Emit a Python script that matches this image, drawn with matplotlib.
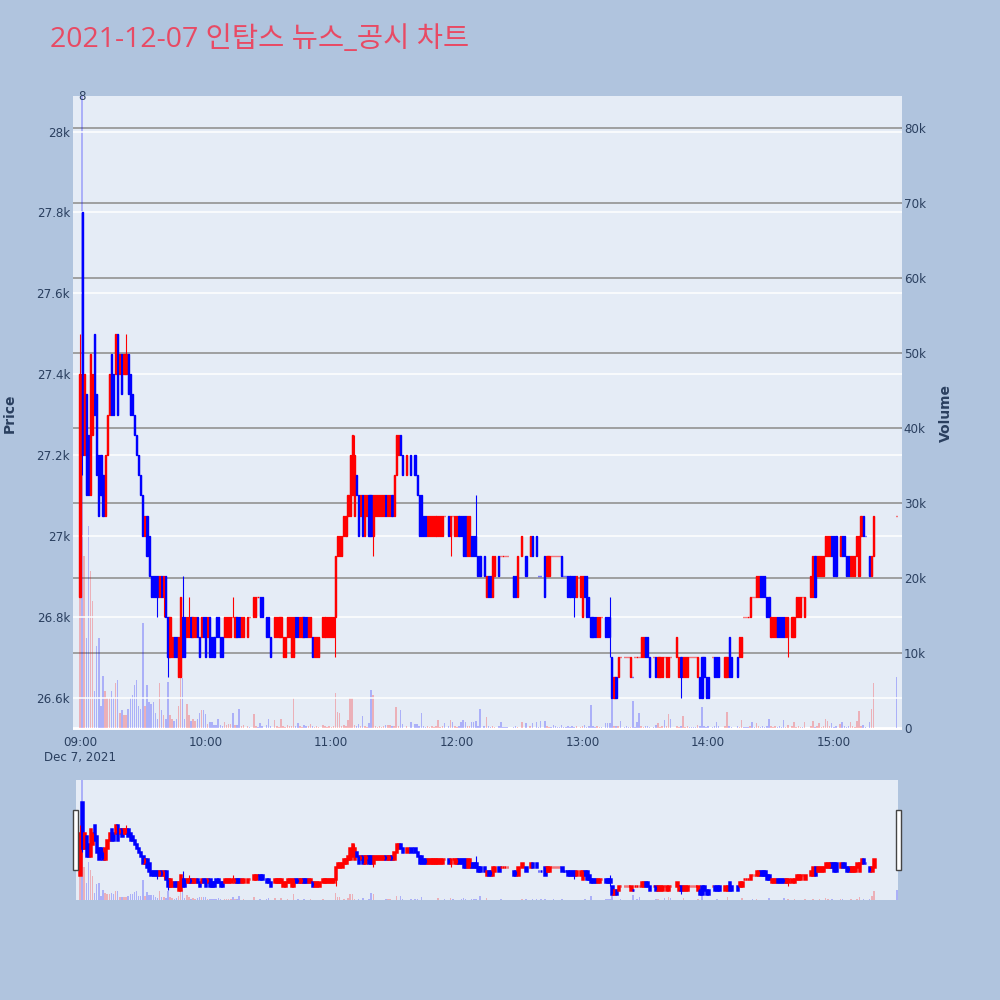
import matplotlib
matplotlib.use('Agg')
import matplotlib.pyplot as plt
from matplotlib.patches import Rectangle

# minute index from 09:00, one entry per traded minute
minutes = [
    0, 1, 2, 3, 4, 5, 6, 7, 8, 9, 10, 11, 12, 13, 14, 15, 16, 17, 18, 19,
    20, 21, 22, 23, 24, 25, 26, 27, 28, 29, 30, 31, 32, 33, 34, 35, 36, 37, 38, 39,
    40, 41, 42, 43, 44, 45, 46, 47, 48, 49, 50, 51, 52, 53, 54, 55, 56, 57, 58, 59, 60,
    # 10:00
    61, 62, 63, 64, 65, 66, 67, 68, 69, 70, 71, 72, 73, 74, 75, 76, 77, 78, 80, 81,
    83, 84, 85, 86, 87, 89, 90, 91, 93, 94, 95, 96, 97, 98, 99, 100, 101, 102, 103, 104,
    105, 106, 107, 108, 109, 110, 111, 112, 113, 114, 116, 117, 118, 119, 120, 121,
    # 11:00
    122, 123, 124, 125, 126, 127, 128, 129, 130, 131, 132, 133, 134, 135, 136, 137, 138, 139, 140, 141,
    142, 143, 144, 145, 146, 147, 148, 149, 150, 151, 152, 153, 154, 156, 158, 160, 161, 162, 163, 164,
    165, 166, 167, 168, 169, 170, 171, 172, 173, 174, 176, 177, 178,
    # 12:00
    179, 180, 181, 182, 183, 184, 185, 186, 187, 188, 189, 190, 191, 193, 194, 195, 196, 197, 198, 200,
    201, 202, 203, 204, 207, 208, 209, 211, 213, 215, 216, 218, 219, 220, 222, 223, 224, 225, 226, 227,
    228, 229, 230, 231, 232, 233, 234, 235, 236, 237, 239, 240, 241, 242, 243, 244,
    # 13:00
    245, 246, 247, 248, 249, 251, 252, 253, 254, 255, 256, 257, 258, 260, 261, 262, 263, 264, 265, 266,
    267, 268, 269, 270, 271, 272, 274, 275, 276, 277, 278, 279, 280, 281, 282, 285, 286, 287, 288, 289,
    290, 291, 292, 293, 294, 295, 296, 297, 298, 299, 300, 302, 303, 304, 305,
    # 14:00 - close
    308, 309, 310, 311, 314, 315, 316, 317, 318, 319, 320, 321, 322, 323, 324, 325, 326, 327, 328, 329,
    330, 331, 332, 333, 334, 335, 336, 337, 338, 340, 341, 342, 343, 344, 345, 346, 349, 350, 351, 352,
    353, 354, 355, 356, 357, 358, 359, 360, 361, 363, 364, 365, 366, 367, 368, 369, 370, 371, 372, 373,
    374, 375, 377, 378, 379, 390,
]

opens = [
    26850, 27800, 27200, 27350, 27250, 27100, 27250, 27500, 27350, 27200,
    27200, 27150, 27050, 27200, 27300, 27450, 27400, 27400, 27500, 27400,
    27450, 27400, 27400, 27450, 27400, 27350, 27300, 27250, 27200, 27150,
    27100, 27000, 27050, 27000, 26900, 26900, 26900, 26900, 26850, 26900,
    26850, 26900, 26800, 26700, 26700, 26750, 26750, 26650, 26650, 26800,
    26800, 26750, 26750, 26800, 26750, 26750, 26800, 26750, 26750, 26800, 26800,
    26750, 26800, 26750, 26750, 26800, 26800, 26750, 26750, 26750, 26750,
    26750, 26750, 26800, 26750, 26800, 26800, 26750, 26750, 26750, 26800,
    26800, 26800, 26850, 26850, 26850, 26800, 26800, 26750, 26750, 26750,
    26750, 26750, 26700, 26700, 26750, 26750, 26700, 26700, 26800, 26800,
    26750, 26750, 26800, 26800, 26750, 26750, 26750, 26700, 26700, 26700,
    26750, 26750, 26750, 26750, 26750, 26750,
    26800, 26950, 26950, 26950, 27000, 27000, 27050, 27050, 27100, 27050,
    27150, 27100, 27050, 27100, 27000, 27050, 27100, 27100, 27000, 27050,
    27050, 27050, 27050, 27050, 27100, 27050, 27050, 27100, 27050, 27150,
    27200, 27250, 27200, 27150, 27200, 27200, 27150, 27100, 27100, 27050,
    27050, 27000, 27000, 27000, 27000, 27000, 27000, 27000, 27000, 27050,
    27050, 27000, 27050,
    27000, 27000, 27050, 27050, 27050, 27050, 26950, 26950, 27000, 27000,
    27000, 26950, 26950, 26950, 26850, 26900, 26900, 26850, 26900, 26950,
    26950, 26950, 26950, 26950, 26900, 26900, 26850, 26950, 26950, 26950,
    27000, 27000, 26900, 26900, 26950, 26900, 26900, 26950, 26950, 26950,
    26950, 26950, 26950, 26900, 26900, 26900, 26900, 26900, 26900, 26850,
    26850, 26800, 26900, 26900, 26850, 26800,
    26800, 26800, 26750, 26750, 26800, 26800, 26800, 26800, 26700, 26600,
    26650, 26650, 26700, 26700, 26700, 26700, 26650, 26650, 26700, 26700,
    26700, 26700, 26700, 26750, 26750, 26700, 26700, 26700, 26650, 26650,
    26650, 26700, 26650, 26650, 26700, 26700, 26650, 26700, 26650, 26650,
    26650, 26700, 26700, 26700, 26700, 26650, 26650, 26700, 26700, 26650,
    26650, 26700, 26700, 26700, 26700,
    26650, 26650, 26750, 26700, 26700, 26700, 26700, 26800, 26800, 26800,
    26800, 26850, 26850, 26850, 26850, 26900, 26900, 26900, 26850, 26850,
    26750, 26750, 26750, 26800, 26800, 26800, 26800, 26750, 26750, 26750,
    26750, 26800, 26800, 26800, 26850, 26800, 26850, 26850, 26950, 26900,
    26900, 26900, 26900, 26950, 26950, 26950, 27000, 27000, 27000, 26950,
    27000, 27000, 26950, 26950, 26900, 26900, 26900, 26950, 26900, 27000,
    27050, 27000, 26950, 26900, 26950, 27050,
]

highs = [
    27500, 27800, 27400, 27350, 27250, 27450, 27400, 27500, 27350, 27200,
    27200, 27150, 27200, 27300, 27400, 27450, 27400, 27500, 27500, 27450,
    27450, 27450, 27500, 27450, 27400, 27350, 27300, 27250, 27200, 27150,
    27100, 27050, 27050, 27000, 26900, 26900, 26900, 26900, 26900, 26900,
    26900, 26900, 26800, 26800, 26750, 26750, 26750, 26750, 26850, 26900,
    26800, 26800, 26850, 26800, 26800, 26800, 26800, 26750, 26800, 26800, 26800,
    26800, 26800, 26750, 26750, 26800, 26800, 26750, 26750, 26800, 26800,
    26800, 26800, 26850, 26800, 26800, 26800, 26800, 26800, 26800, 26800,
    26850, 26850, 26850, 26850, 26850, 26800, 26800, 26750, 26800, 26800,
    26800, 26800, 26750, 26750, 26800, 26800, 26800, 26800, 26800, 26800,
    26800, 26800, 26800, 26800, 26800, 26800, 26750, 26750, 26750, 26750,
    26800, 26800, 26800, 26800, 26800, 26800,
    26950, 27000, 27000, 27000, 27050, 27050, 27100, 27200, 27250, 27250,
    27150, 27100, 27100, 27100, 27100, 27100, 27100, 27100, 27100, 27100,
    27100, 27100, 27100, 27100, 27100, 27100, 27100, 27100, 27150, 27250,
    27250, 27250, 27200, 27200, 27200, 27200, 27150, 27100, 27100, 27050,
    27050, 27050, 27050, 27050, 27050, 27050, 27050, 27050, 27050, 27050,
    27050, 27050, 27050,
    27050, 27050, 27050, 27050, 27050, 27050, 27050, 27050, 27000, 27000,
    27100, 26950, 26950, 26950, 26900, 26900, 26900, 26950, 26950, 26950,
    26950, 26950, 26950, 26950, 26900, 26900, 26950, 27000, 26950, 27000,
    27000, 27000, 26900, 26900, 26950, 26950, 26950, 26950, 26950, 26950,
    26950, 26950, 26950, 26900, 26900, 26900, 26900, 26900, 26900, 26900,
    26900, 26900, 26900, 26900, 26850, 26800,
    26800, 26800, 26800, 26800, 26800, 26800, 26800, 26850, 26700, 26650,
    26650, 26700, 26700, 26700, 26700, 26700, 26700, 26650, 26700, 26700,
    26700, 26750, 26750, 26750, 26750, 26700, 26700, 26700, 26700, 26700,
    26700, 26700, 26700, 26700, 26700, 26750, 26700, 26700, 26700, 26700,
    26700, 26700, 26700, 26700, 26700, 26700, 26650, 26700, 26700, 26650,
    26650, 26700, 26700, 26700, 26700,
    26700, 26700, 26750, 26700, 26700, 26750, 26750, 26800, 26800, 26800,
    26850, 26850, 26850, 26900, 26900, 26900, 26900, 26900, 26850, 26850,
    26800, 26800, 26800, 26800, 26800, 26800, 26800, 26800, 26800, 26800,
    26800, 26850, 26850, 26850, 26850, 26850, 26900, 26950, 26950, 26950,
    26950, 26950, 26950, 27000, 27000, 27000, 27000, 27000, 27000, 27000,
    27000, 27000, 26950, 26950, 26950, 26950, 26950, 27000, 27000, 27050,
    27050, 27000, 26950, 26950, 27050, 27050,
]

lows = [
    26850, 27150, 27200, 27100, 27100, 27100, 27250, 27300, 27150, 27050,
    27100, 27050, 27050, 27200, 27300, 27300, 27300, 27400, 27300, 27400,
    27350, 27400, 27400, 27350, 27300, 27300, 27250, 27200, 27150, 27100,
    27000, 27000, 26950, 26900, 26850, 26850, 26850, 26800, 26850, 26850,
    26800, 26800, 26650, 26700, 26700, 26700, 26700, 26650, 26650, 26700,
    26700, 26750, 26750, 26750, 26750, 26750, 26750, 26700, 26750, 26750, 26700,
    26750, 26700, 26700, 26700, 26750, 26750, 26700, 26700, 26750, 26750,
    26750, 26750, 26800, 26750, 26750, 26750, 26750, 26750, 26750, 26800,
    26800, 26800, 26850, 26800, 26800, 26750, 26750, 26700, 26750, 26750,
    26750, 26750, 26700, 26700, 26750, 26750, 26700, 26700, 26750, 26750,
    26750, 26750, 26750, 26750, 26750, 26750, 26700, 26700, 26700, 26700,
    26750, 26750, 26750, 26750, 26750, 26750,
    26700, 26950, 26950, 26950, 27000, 27000, 27050, 27050, 27100, 27050,
    27100, 27000, 27050, 27000, 27000, 27050, 27000, 27000, 26950, 27050,
    27050, 27050, 27050, 27050, 27050, 27050, 27050, 27050, 27050, 27150,
    27200, 27200, 27150, 27150, 27150, 27150, 27100, 27000, 27000, 27000,
    27000, 27000, 27000, 27000, 27000, 27000, 27000, 27000, 27000, 27050,
    27000, 26950, 27050,
    27000, 27000, 27000, 27000, 26950, 26950, 26950, 26950, 26950, 26950,
    26950, 26900, 26900, 26900, 26850, 26850, 26850, 26850, 26900, 26900,
    26950, 26950, 26950, 26950, 26850, 26850, 26850, 26950, 26900, 26950,
    26950, 26950, 26900, 26900, 26850, 26900, 26900, 26950, 26950, 26950,
    26950, 26950, 26900, 26900, 26900, 26850, 26850, 26850, 26800, 26850,
    26850, 26800, 26850, 26800, 26800, 26750,
    26750, 26750, 26750, 26750, 26800, 26750, 26750, 26700, 26600, 26600,
    26600, 26650, 26700, 26700, 26700, 26700, 26650, 26650, 26700, 26700,
    26700, 26700, 26700, 26700, 26700, 26650, 26700, 26650, 26650, 26650,
    26650, 26700, 26650, 26650, 26700, 26700, 26650, 26600, 26650, 26650,
    26650, 26700, 26700, 26700, 26700, 26650, 26600, 26600, 26650, 26600,
    26600, 26700, 26650, 26650, 26650,
    26650, 26650, 26650, 26650, 26650, 26700, 26700, 26800, 26800, 26800,
    26800, 26850, 26850, 26850, 26850, 26850, 26850, 26850, 26800, 26800,
    26750, 26750, 26750, 26750, 26750, 26750, 26750, 26750, 26700, 26750,
    26750, 26800, 26800, 26800, 26850, 26800, 26850, 26850, 26850, 26900,
    26900, 26900, 26900, 26950, 26950, 26950, 26950, 26900, 26900, 26950,
    26950, 26950, 26900, 26900, 26900, 26900, 26900, 26950, 26900, 27000,
    27000, 27000, 26900, 26900, 26950, 27050,
]

closes = [
    27400, 27200, 27400, 27100, 27100, 27450, 27400, 27300, 27150, 27050,
    27100, 27050, 27200, 27300, 27400, 27300, 27300, 27500, 27300, 27450,
    27350, 27450, 27450, 27350, 27300, 27300, 27250, 27200, 27150, 27100,
    27000, 27050, 26950, 26900, 26850, 26850, 26850, 26850, 26900, 26850,
    26900, 26800, 26700, 26800, 26750, 26700, 26700, 26750, 26850, 26700,
    26700, 26800, 26800, 26750, 26800, 26800, 26750, 26700, 26800, 26750, 26700,
    26800, 26700, 26700, 26700, 26750, 26750, 26700, 26700, 26800, 26800,
    26800, 26800, 26800, 26800, 26750, 26750, 26800, 26800, 26800, 26800,
    26850, 26850, 26850, 26800, 26800, 26750, 26750, 26700, 26800, 26800,
    26800, 26800, 26750, 26750, 26800, 26800, 26800, 26800, 26750, 26750,
    26800, 26800, 26750, 26750, 26800, 26800, 26700, 26750, 26750, 26750,
    26800, 26800, 26800, 26800, 26800, 26800,
    26950, 27000, 27000, 27000, 27050, 27050, 27100, 27200, 27250, 27200,
    27100, 27000, 27100, 27000, 27100, 27100, 27000, 27000, 27100, 27100,
    27100, 27100, 27100, 27100, 27050, 27100, 27100, 27050, 27150, 27250,
    27250, 27200, 27150, 27200, 27150, 27150, 27100, 27000, 27000, 27000,
    27000, 27050, 27050, 27050, 27050, 27050, 27050, 27050, 27050, 27050,
    27000, 27050, 27050,
    27050, 27050, 27000, 27000, 26950, 26950, 27050, 27050, 26950, 26950,
    26950, 26900, 26900, 26900, 26900, 26850, 26850, 26950, 26950, 26900,
    26950, 26950, 26950, 26950, 26850, 26850, 26950, 27000, 26900, 27000,
    26950, 26950, 26900, 26900, 26850, 26950, 26950, 26950, 26950, 26950,
    26950, 26950, 26900, 26900, 26900, 26850, 26850, 26850, 26850, 26900,
    26900, 26900, 26850, 26800, 26800, 26750,
    26750, 26750, 26800, 26800, 26800, 26750, 26750, 26750, 26600, 26650,
    26600, 26700, 26700, 26700, 26700, 26700, 26700, 26650, 26700, 26700,
    26700, 26750, 26750, 26700, 26700, 26650, 26700, 26650, 26700, 26700,
    26700, 26700, 26700, 26700, 26700, 26750, 26700, 26650, 26700, 26700,
    26700, 26700, 26700, 26700, 26700, 26700, 26600, 26600, 26650, 26600,
    26600, 26700, 26650, 26650, 26650,
    26700, 26700, 26650, 26650, 26650, 26750, 26750, 26800, 26800, 26800,
    26850, 26850, 26850, 26900, 26900, 26850, 26850, 26850, 26800, 26800,
    26800, 26800, 26800, 26750, 26750, 26750, 26750, 26800, 26800, 26800,
    26800, 26850, 26850, 26850, 26850, 26850, 26900, 26950, 26850, 26950,
    26950, 26950, 26950, 27000, 27000, 27000, 26950, 26900, 26900, 27000,
    26950, 26950, 26900, 26900, 26950, 26950, 26950, 27000, 27000, 27050,
    27000, 27000, 26900, 26950, 27050, 27050,
]

volumes = [
    26000, 88000, 23000, 12000, 27000, 21000, 17000, 5000, 11000, 12000,
    3000, 7000, 5000, 4000, 4000, 5000, 4000, 6000, 6500, 2000,
    2400, 1800, 1800, 2600, 4000, 4400, 5800, 6400, 3000, 2600,
    14000, 3000, 5800, 3500, 3300, 3500, 2000, 1300, 6000, 2400,
    1800, 1300, 6200, 1800, 1300, 1000, 1300, 3000, 6700, 6700,
    1300, 3300, 1800, 1000, 1300, 1000, 1300, 2100, 2400, 2400, 1900,
    600, 800, 800, 500, 400, 1200, 500, 300, 900, 400,
    600, 600, 2100, 500, 400, 2600, 300, 400, 300, 200,
    1900, 300, 200, 700, 300, 400, 1200, 300, 1100, 300,
    200, 1300, 300, 200, 400, 300, 300, 4100, 300, 700,
    300, 200, 400, 300, 300, 600, 300, 200, 300, 200,
    400, 300, 200, 300, 200, 300,
    4700, 2200, 2000, 300, 400, 300, 1100, 4100, 4100, 400,
    300, 600, 300, 1600, 300, 200, 700, 5100, 4400, 300,
    200, 300, 200, 300, 400, 400, 400, 300, 300, 2800,
    300, 2500, 600, 300, 900, 600, 600, 300, 2100, 300,
    200, 300, 200, 300, 200, 300, 1100, 200, 300, 700,
    300, 1100, 900,
    300, 200, 300, 900, 1100, 900, 300, 300, 900, 900,
    1000, 300, 2600, 300, 1500, 300, 200, 300, 200, 300,
    800, 200, 200, 200, 200, 300, 200, 800, 700, 300,
    700, 800, 200, 1000, 1000, 300, 200, 200, 500, 300,
    200, 200, 400, 200, 200, 300, 200, 300, 200, 300,
    200, 300, 400, 200, 300, 3100,
    300, 200, 300, 200, 200, 700, 700, 700, 4000, 300,
    300, 300, 1000, 200, 300, 200, 200, 3600, 200, 800,
    2000, 300, 200, 300, 300, 200, 200, 500, 700, 200,
    300, 1100, 300, 1900, 1200, 300, 200, 300, 1600, 200,
    300, 200, 200, 200, 200, 500, 300, 2800, 300, 200,
    300, 200, 300, 800, 300,
    300, 2200, 300, 200, 300, 200, 1100, 200, 200, 200,
    300, 900, 200, 700, 300, 200, 300, 200, 300, 1200,
    300, 200, 300, 200, 300, 200, 1100, 200, 400, 300,
    900, 200, 300, 200, 200, 800, 300, 1000, 200, 300,
    700, 200, 300, 1200, 1000, 300, 700, 200, 300, 600,
    800, 300, 200, 300, 900, 300, 200, 1000, 2300, 300,
    400, 200, 900, 2600, 6100, 6900,
]

assert len(minutes) == len(opens) == len(highs) == len(lows) == len(closes) == len(volumes)

price_ticks = [26600, 26800, 27000, 27200, 27400, 27600, 27800, 28000]
price_labels = ['26.6k', '26.8k', '27k', '27.2k', '27.4k', '27.6k', '27.8k', '28k']
vol_ticks = [0, 10000, 20000, 30000, 40000, 50000, 60000, 70000, 80000]
vol_labels = ['0', '10k', '20k', '30k', '40k', '50k', '60k', '70k', '80k']
time_ticks = [0, 60, 120, 180, 240, 300, 360]
time_labels = ['09:00\nDec 7, 2021', '10:00', '11:00', '12:00', '13:00', '14:00', '15:00']

title = '2021-12-07 인탑스 뉴스_공시 차트'

BG = '#B0C4DE'
PLOT_BG = '#E5ECF6'
TXT = '#2a3f5f'
plt.rcParams['font.family'] = ['DejaVu Sans', 'Noto Sans CJK KR']

# candle direction the way plotly decides it (ties use the previous close)
up = []
prev_c = None
prev_up = True
for o, c in zip(opens, closes):
    if c > o:
        u = True
    elif c < o:
        u = False
    elif prev_c is not None and c > prev_c:
        u = True
    elif prev_c is not None and c < prev_c:
        u = False
    else:
        u = prev_up
    up.append(u)
    prev_c = c
    prev_up = u
cols = ['#ff0000' if u else '#0000ff' for u in up]
vcols = ['#ff0000' if c > o else '#0000ff' for o, c in zip(opens, closes)]
bottoms = [min(o, c) for o, c in zip(opens, closes)]
heights = [abs(c - o) for o, c in zip(opens, closes)]

PRICE_LIM = (26520, 28088)
VOL_LIM = (-230, 84300)


def draw(ax_v, ax_p, body_w, body_lw):
    ax_v.bar(minutes, volumes, width=0.7, color=vcols, alpha=0.25, linewidth=0)
    ax_p.vlines(minutes, lows, highs, colors=cols, linewidth=0.8)
    ax_p.bar(minutes, heights, bottom=bottoms, width=body_w, color=cols,
             edgecolor=cols, linewidth=body_lw)


fig = plt.figure(figsize=(10, 10), dpi=100, facecolor=BG)

# main panel
pos = [0.073, 0.270, 0.8287, 0.634]
axv = fig.add_axes(pos, zorder=1)
axp = fig.add_axes(pos, zorder=2, sharex=axv)
axp.patch.set_visible(False)
axv.set_facecolor(PLOT_BG)

for y in vol_ticks[1:]:
    axv.axhline(y, color='#999999', linewidth=1.3, zorder=0)
axv.axhline(0, color='white', linewidth=2, zorder=0)
for y in price_ticks:
    axp.axhline(y, color='white', linewidth=1.1, zorder=0)

draw(axv, axp, 0.55, 1.0)

axp.set_xlim(-3.34, 392.4)
axp.set_ylim(*PRICE_LIM)
axv.set_ylim(*VOL_LIM)

axp.set_yticks(price_ticks)
axp.set_yticklabels(price_labels)
axv.yaxis.tick_right()
axv.set_yticks(vol_ticks)
axv.set_yticklabels(vol_labels)
axv.set_xticks(time_ticks)
axv.set_xticklabels(time_labels)
axp.tick_params(axis='x', labelbottom=False, length=0)
axp.tick_params(axis='y', length=0, pad=2, labelsize=8.6, labelcolor=TXT)
axv.tick_params(axis='y', length=0, pad=1.5, labelsize=8.6, labelcolor=TXT)
axv.tick_params(axis='x', length=0, pad=4, labelsize=8.6, labelcolor=TXT)
for a in (axv, axp):
    for s in a.spines.values():
        s.set_visible(False)

fig.text(0.010, 1 - 0.413, 'Price', rotation=90, ha='center', va='center',
         fontsize=10, fontweight='bold', color=TXT)
fig.text(0.946, 1 - 0.413, 'Volume', rotation=90, ha='center', va='center',
         fontsize=10, fontweight='bold', color=TXT)
fig.text(0.082, 1 - 0.097, '8', ha='center', va='center', fontsize=8.6, color=TXT)
fig.text(0.050, 1 - 0.040, title, ha='left', va='center', fontsize=20.5,
         color='#E84A64', family=['Open Sans', 'Noto Sans CJK KR'])

# range slider
spos = [0.076, 0.100, 0.822, 0.120]
sv = fig.add_axes(spos, zorder=1)
sp = fig.add_axes(spos, zorder=2, sharex=sv)
sp.patch.set_visible(False)
sv.set_facecolor(PLOT_BG)
draw(sv, sp, 0.7, 1.8)
sp.set_xlim(-1.9, 390.5)
sp.set_ylim(*PRICE_LIM)
sv.set_ylim(0, 84300)
for a in (sv, sp):
    a.set_xticks([])
    a.set_yticks([])
    for s in a.spines.values():
        s.set_visible(False)

for hx in (0.0733, 0.8962):
    fig.add_artist(Rectangle((hx, 0.130), 0.0045, 0.060, transform=fig.transFigure,
                             facecolor='white', edgecolor='#444444', linewidth=1,
                             zorder=5))

fig.savefig('out.png', dpi=100, facecolor=BG)
